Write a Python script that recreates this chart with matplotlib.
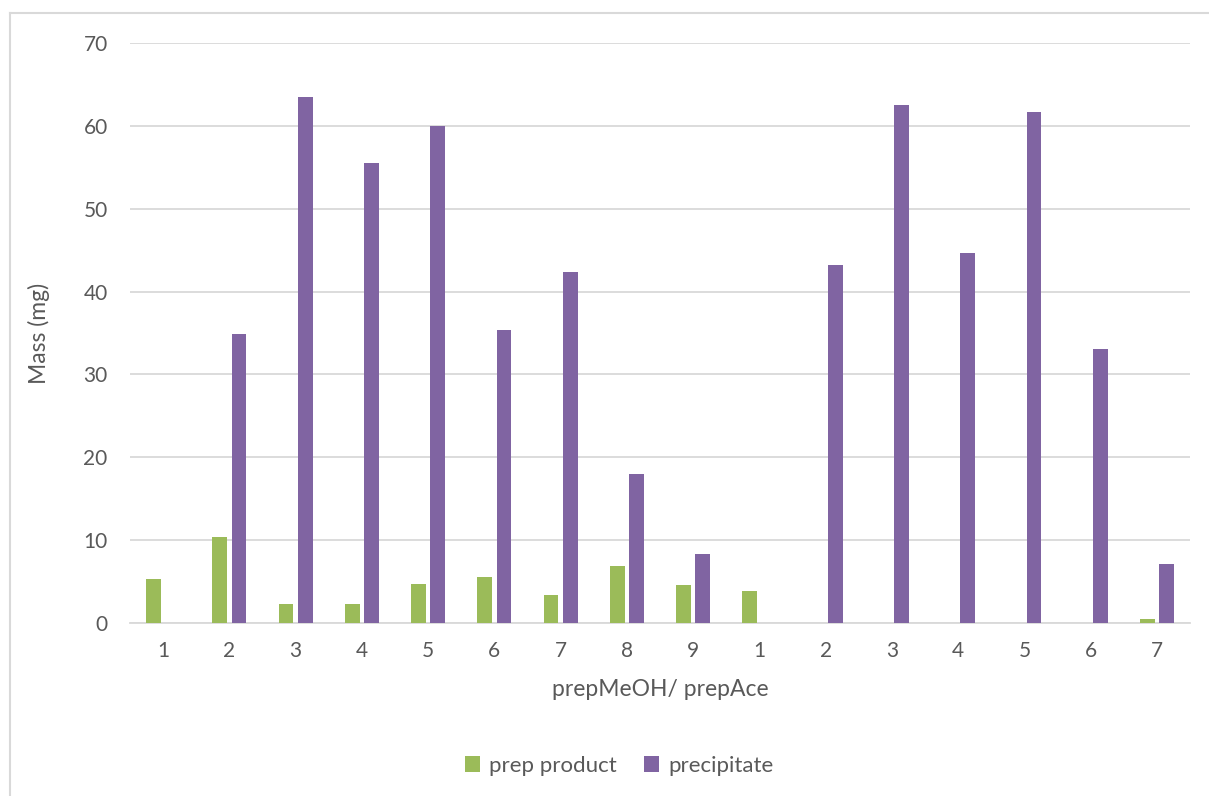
import numpy as np
from matplotlib import pyplot as plt
from matplotlib.lines import Line2D

# Sample labels: prepMeOH 1-9 followed by prepAce 1-7
labels = ['1', '2', '3', '4', '5', '6', '7', '8', '9',
          '1', '2', '3', '4', '5', '6', '7']
prep_product = [5.3, 10.4, 2.3, 2.3, 4.7, 5.5, 3.4, 6.9, 4.6,
                3.9, 0, 0, 0, 0, 0, 0.5]
precipitate = [0, 34.9, 63.5, 55.5, 60.0, 35.4, 42.4, 18.0, 8.3,
               0, 43.2, 62.5, 44.7, 61.7, 33.1, 7.1]

green = '#9BBB59'
purple = '#8064A2'
text_color = '#595959'
grid_color = '#D9D9D9'

plt.rcParams['font.family'] = ['Lato', 'DejaVu Sans']

fig = plt.figure(figsize=(12.09, 7.96), dpi=100)
ax = fig.add_axes([0.1075, 0.2173, 0.8768, 0.7287])

x = np.arange(len(labels))
w = 0.225
off = 0.145
ax.bar(x - off, prep_product, w, color=green, label='prep product', zorder=3)
ax.bar(x + off, precipitate, w, color=purple, label='precipitate', zorder=3)

ax.set_xlim(-0.5, len(labels) - 0.5)
ax.set_ylim(0, 70)
ax.set_yticks(range(0, 71, 10))
ax.set_xticks(x)
ax.set_xticklabels(labels)
ax.grid(axis='y', color=grid_color, linewidth=1.3, zorder=0)
ax.tick_params(length=0, labelsize=15, colors=text_color)
ax.tick_params(axis='x', pad=13)
ax.tick_params(axis='y', pad=16)
for s in ['top', 'right', 'left']:
    ax.spines[s].set_visible(False)
ax.spines['bottom'].set_color(grid_color)
ax.spines['bottom'].set_linewidth(1.3)

ax.set_xlabel('prepMeOH/ prepAce', fontsize=16.5, color=text_color, labelpad=13)
ax.set_ylabel('Mass (mg)', fontsize=16.5, color=text_color, labelpad=24)

fig.legend(loc='center', bbox_to_anchor=(0.512, 0.038), ncol=2, frameon=False,
           fontsize=16, labelcolor=text_color, handlelength=0.7, handleheight=0.7,
           handletextpad=0.4, columnspacing=1.2)

# Chart frame (top and left edges)
fig.add_artist(Line2D([10 / 1209, 1], [1 - 13 / 796] * 2, color=grid_color,
                      linewidth=1.5, transform=fig.transFigure))
fig.add_artist(Line2D([10 / 1209] * 2, [0, 1 - 13 / 796], color=grid_color,
                      linewidth=1.5, transform=fig.transFigure))

fig.savefig('out.png', dpi=100)
